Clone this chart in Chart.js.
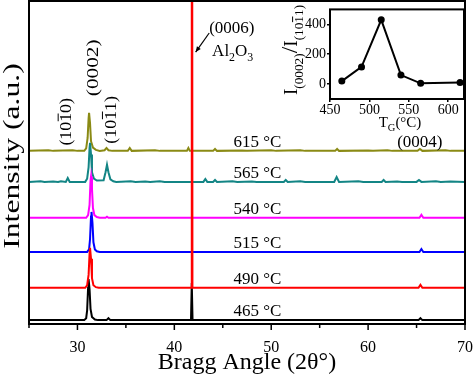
<!DOCTYPE html>
<html>
<head>
<meta charset="utf-8">
<script src="https://cdn.jsdelivr.net/npm/chart.js@4.4.0/dist/chart.umd.min.js"></script>
<style>
  html, body { margin: 0; padding: 0; background: #fff; }
  #wrap { position: relative; width: 474px; height: 377px; }
  #wrap canvas { position: absolute; left: 0; top: 0; }
</style>
</head>
<body>
<div id="wrap">
  <canvas id="main" width="474" height="377"></canvas>
  <canvas id="inset" width="474" height="377"></canvas>
</div>
<script>
const FONT = "'Liberation Serif', 'Times New Roman', serif";

// growth temperatures, bottom pattern first
const temps = [465, 490, 515, 540, 565, 615];
const colors = ['#000000', '#ff0000', '#0000ff', '#ff00ff', '#138585', '#8a8a14'];
// vertical offset of each stacked pattern (a.u.)
const offsets = [12, 112, 223, 329, 440, 536];

// [2θ, intensity]
const scan465 = [[25,0],[30.7,0],[30.9,6],[31.0,30],[31.1,100],[31.15,127],[31.25,95],[31.35,35],[31.5,10],[31.8,2],[32.1,0],[33.0,0],[33.2,6],[33.4,0],[41.72,0],[41.8,115],[41.88,0],[65.2,0],[65.4,6],[65.6,0],[70,0]];
const scan490 = [[25,0],[30.8,0],[31.0,8],[31.15,40],[31.25,105],[31.3,124],[31.4,90],[31.5,30],[31.65,8],[31.9,2],[32.2,0],[41.73,0],[41.8,3000],[41.87,0],[65.2,0],[65.4,9],[65.6,0],[70,0]];
const scan515 = [[25,0],[31.0,0],[31.2,8],[31.3,40],[31.4,110],[31.45,124],[31.55,90],[31.65,30],[31.8,8],[32.0,2],[32.3,0],[65.3,0],[65.5,9],[65.7,0],[70,0]];
const scan540 = [[25,0],[30.9,0],[31.1,8],[31.25,40],[31.35,115],[31.4,127],[31.5,90],[31.6,30],[31.75,8],[32.0,2],[32.3,0],[32.9,0],[33.05,3],[33.2,0],[65.3,0],[65.5,9],[65.7,0],[70,0]];
const scan565 = [[25,0],[26.2,2],[26.6,0],[27.5,1],[28.0,0],[28.3,2],[28.8,0],[29.0,12],[29.2,0],[30.8,0],[31.0,10],[31.15,45],[31.25,105],[31.3,121],[31.4,85],[31.5,30],[31.7,10],[32.0,4],[32.7,5],[32.9,30],[33.05,53],[33.2,30],[33.4,8],[33.7,2],[34.0,0],[35.5,2],[36.0,0],[37.0,1],[37.5,0],[38.5,2],[39.0,0],[43.0,0],[43.2,9],[43.4,0],[44.0,0],[44.2,6],[44.4,0],[46.0,2],[46.5,0],[48.0,1],[48.5,0],[51.3,0],[51.5,6],[51.7,0],[53.0,2],[53.5,0],[56.5,0],[56.75,15],[57.0,0],[59.0,2],[59.5,0],[61.4,0],[61.6,6],[61.8,0],[63.0,1],[63.5,0],[65.0,0],[65.25,6],[65.5,0],[67.0,2],[67.5,0],[68.5,1],[70,0]];
const scan615 = [[25,0],[27.0,2],[27.5,0],[29.5,2],[30.0,0],[30.7,0],[30.9,8],[31.05,40],[31.15,100],[31.2,118],[31.3,85],[31.4,30],[31.6,10],[31.9,3],[32.3,0],[32.8,2],[33.0,9],[33.2,2],[33.6,0],[35.2,0],[35.4,9],[35.6,0],[38.0,2],[38.5,0],[41.3,0],[41.45,9],[41.6,0],[44.0,0],[44.2,6],[44.4,0],[47.0,1],[47.5,0],[50.0,2],[50.5,0],[53.0,2],[53.5,0],[56.6,0],[56.8,6],[57.0,0],[60.0,1],[60.5,0],[62.0,2],[62.5,0],[65.1,0],[65.35,6],[65.6,0],[68.0,2],[68.5,0],[70,0]];
const scans = [scan465, scan490, scan515, scan540, scan565, scan615];

const xTicks = [25, 30, 35, 40, 45, 50, 55, 60, 65, 70];

// inset: intensity ratio I(0002)/I(10-11) vs growth temperature
const insetTemps = [465, 490, 515, 540, 565, 615];
const insetRatio = [20, 115, 430, 60, 5, 10];
const insetXTicks = [450, 500, 550, 600];
const insetYTicks = [0, 200, 400];

// draws text pieces (subscripts, overbars) centred on x,y
function drawRich(ctx, parts, size, x, y, angle, stretch) {
  ctx.save();
  ctx.translate(x, y);
  ctx.rotate(angle || 0);
  ctx.scale(stretch || 1, 1);
  ctx.textAlign = 'left';
  ctx.textBaseline = 'alphabetic';
  const sizes = parts.map(p => p.sub ? size * 0.7 : (p.big ? size * 1.25 : size));
  const widths = parts.map((p, i) => { ctx.font = `${sizes[i]}px ${FONT}`; return ctx.measureText(p.t).width; });
  let cx = -widths.reduce((a, b) => a + b, 0) / 2;
  const base = size * 0.33;
  parts.forEach((p, i) => {
    ctx.font = `${sizes[i]}px ${FONT}`;
    const by = base + (p.sub ? size * 0.3 : 0);
    ctx.fillText(p.t, cx, by);
    if (p.bar) {
      ctx.lineWidth = 1;
      ctx.strokeStyle = '#000';
      ctx.beginPath();
      ctx.moveTo(cx + 0.5, by - sizes[i] * 0.78);
      ctx.lineTo(cx + widths[i] - 0.5, by - sizes[i] * 0.78);
      ctx.stroke();
    }
    cx += widths[i];
  });
  ctx.restore();
}

const mainDecor = {
  id: 'mainDecor',
  afterDraw(chart) {
    const { ctx, chartArea: a, scales: { x, y } } = chart;
    ctx.save();
    ctx.strokeStyle = '#000';
    ctx.lineWidth = 2;
    ctx.strokeRect(a.left, a.top, a.right - a.left, a.bottom - a.top);
    // outward tick marks
    ctx.lineWidth = 1.5;
    x.ticks.forEach(t => {
      const px = x.getPixelForValue(t.value);
      const len = t.value % 10 === 0 ? 6 : 4;
      ctx.beginPath();
      ctx.moveTo(px, a.bottom);
      ctx.lineTo(px, a.bottom + len);
      ctx.stroke();
    });
    ctx.fillStyle = '#000';
    // y title
    drawRich(ctx, [{ t: 'Intensity (a.u.)' }], 24, 11, 156, -Math.PI / 2, 1.32);
    // temperature labels
    ctx.font = `17px ${FONT}`;
    ctx.textAlign = 'left';
    ctx.textBaseline = 'alphabetic';
    temps.forEach((t, i) => {
      ctx.fillText(`${t} °C`, x.getPixelForValue(46.1), y.getPixelForValue(offsets[i]) - 4);
    });
    ctx.fillText('(0004)', x.getPixelForValue(63.0), y.getPixelForValue(offsets[5]) - 4);
    // peak indices
    const top = offsets[5];
    drawRich(ctx, [{ t: '(10' }, { t: '1', bar: true }, { t: '0)' }], 17, x.getPixelForValue(28.8), y.getPixelForValue(top + 90), -Math.PI / 2, 1.05);
    drawRich(ctx, [{ t: '(0002)' }], 17, x.getPixelForValue(31.5), y.getPixelForValue(top + 257), -Math.PI / 2, 1.25);
    drawRich(ctx, [{ t: '(10' }, { t: '1', bar: true }, { t: '1)' }], 17, x.getPixelForValue(33.37), y.getPixelForValue(top + 96), -Math.PI / 2, 1.05);
    // substrate peak
    ctx.font = `17px ${FONT}`;
    ctx.fillText('(0006)', x.getPixelForValue(43.6), y.getPixelForValue(920) + 6);
    const alParts = [{ t: 'Al' }, { t: '2', sub: true }, { t: 'O' }, { t: '3', sub: true }];
    const alW = ctx.measureText('AlO').width + ctx.measureText('23').width * 0.7;
    drawRich(ctx, alParts, 17, x.getPixelForValue(43.9) + alW / 2, y.getPixelForValue(848), 0, 1);
    // arrow
    const x0 = x.getPixelForValue(43.6), y0 = y.getPixelForValue(901);
    const x1 = x.getPixelForValue(42.2), y1 = y.getPixelForValue(842);
    ctx.lineWidth = 1.2;
    ctx.beginPath();
    ctx.moveTo(x0, y0);
    ctx.lineTo(x1, y1);
    ctx.stroke();
    const ang = Math.atan2(y1 - y0, x1 - x0);
    ctx.beginPath();
    ctx.moveTo(x1, y1);
    ctx.lineTo(x1 - 6 * Math.cos(ang - 0.4), y1 - 6 * Math.sin(ang - 0.4));
    ctx.lineTo(x1 - 6 * Math.cos(ang + 0.4), y1 - 6 * Math.sin(ang + 0.4));
    ctx.closePath();
    ctx.fill();
    ctx.restore();
  }
};

new Chart(document.getElementById('main'), {
  type: 'line',
  data: {
    datasets: scans.map((scan, i) => ({
      label: `${temps[i]} °C`,
      data: scan.map(([tt, v]) => ({ x: tt, y: v + offsets[i] })),
      borderColor: colors[i],
      borderWidth: 2,
      pointRadius: 0,
      tension: 0,
      order: i === 1 ? 0 : 1
    }))
  },
  options: {
    responsive: false,
    animation: false,
    layout: { padding: { top: 1, right: 9, left: 0, bottom: 0 } },
    plugins: { legend: { display: false }, tooltip: { enabled: false } },
    scales: {
      x: {
        type: 'linear', min: 25, max: 70,
        afterBuildTicks: s => { s.ticks = xTicks.map(v => ({ value: v })); },
        ticks: {
          font: { family: FONT, size: 16 }, color: '#000', padding: 6, maxRotation: 0, autoSkip: false,
          callback: v => (v % 10 === 0 && v !== 25 ? v : '')
        },
        grid: { display: false },
        border: { display: false },
        title: { display: true, text: 'Bragg Angle (2θ°)', color: '#000', font: { family: FONT, size: 24 }, padding: { top: 0, bottom: 0 } },
        afterFit: s => { s.height = 53; s.paddingLeft = 0; s.paddingRight = 0; }
      },
      y: {
        min: 0, max: 1000,
        ticks: { display: false },
        grid: { display: false },
        border: { display: false },
        afterFit: s => { s.width = 29; }
      }
    }
  },
  plugins: [mainDecor]
});

const insetDecor = {
  id: 'insetDecor',
  beforeDraw(chart) {
    const { ctx, chartArea: a } = chart;
    ctx.save();
    ctx.fillStyle = '#fff';
    ctx.fillRect(a.left, a.top, a.right - a.left, a.bottom - a.top);
    ctx.restore();
  },
  afterDraw(chart) {
    const { ctx, chartArea: a } = chart;
    ctx.save();
    ctx.strokeStyle = '#000';
    ctx.lineWidth = 2;
    ctx.strokeRect(a.left, a.top, a.right - a.left, a.bottom - a.top);
    ctx.fillStyle = '#000';
    drawRich(ctx, [{ t: 'I' }, { t: '(0002)', sub: true }, { t: '/', big: true }, { t: 'I' }, { t: '(10', sub: true }, { t: '1', sub: true, bar: true }, { t: '1)', sub: true }],
      19, 291, 50, -Math.PI / 2, 1);
    drawRich(ctx, [{ t: 'T' }, { t: 'G', sub: true }, { t: '(°C)' }], 15, (a.left + a.right) / 2 + 3, 122, 0, 1);
    ctx.restore();
  }
};

new Chart(document.getElementById('inset'), {
  type: 'line',
  data: {
    datasets: [{
      data: insetTemps.map((t, i) => ({ x: t, y: insetRatio[i] })),
      borderColor: '#000',
      backgroundColor: '#000',
      borderWidth: 2,
      pointRadius: 3.5,
      pointBorderWidth: 0,
      tension: 0
    }]
  },
  options: {
    responsive: false,
    animation: false,
    layout: { padding: { left: 270, top: 1, right: 10, bottom: 242 } },
    plugins: { legend: { display: false }, tooltip: { enabled: false } },
    scales: {
      x: {
        type: 'linear', min: 450, max: 620,
        afterBuildTicks: s => { s.ticks = insetXTicks.map(v => ({ value: v })); },
        ticks: { font: { family: FONT, size: 14 }, color: '#000', padding: 0, maxRotation: 0, autoSkip: false },
        grid: { drawOnChartArea: false, tickLength: 3, color: '#000', lineWidth: 1.5 },
        border: { display: false },
        afterFit: s => { s.height = 36; s.paddingLeft = 0; s.paddingRight = 0; }
      },
      y: {
        min: -100, max: 500,
        afterBuildTicks: s => { s.ticks = insetYTicks.map(v => ({ value: v })); },
        ticks: { font: { family: FONT, size: 14 }, color: '#000', padding: 1, autoSkip: false },
        grid: { drawOnChartArea: false, tickLength: 3, color: '#000', lineWidth: 1.5 },
        border: { display: false },
        afterFit: s => { s.width = 60; }
      }
    }
  },
  plugins: [insetDecor]
});
</script>
</body>
</html>
